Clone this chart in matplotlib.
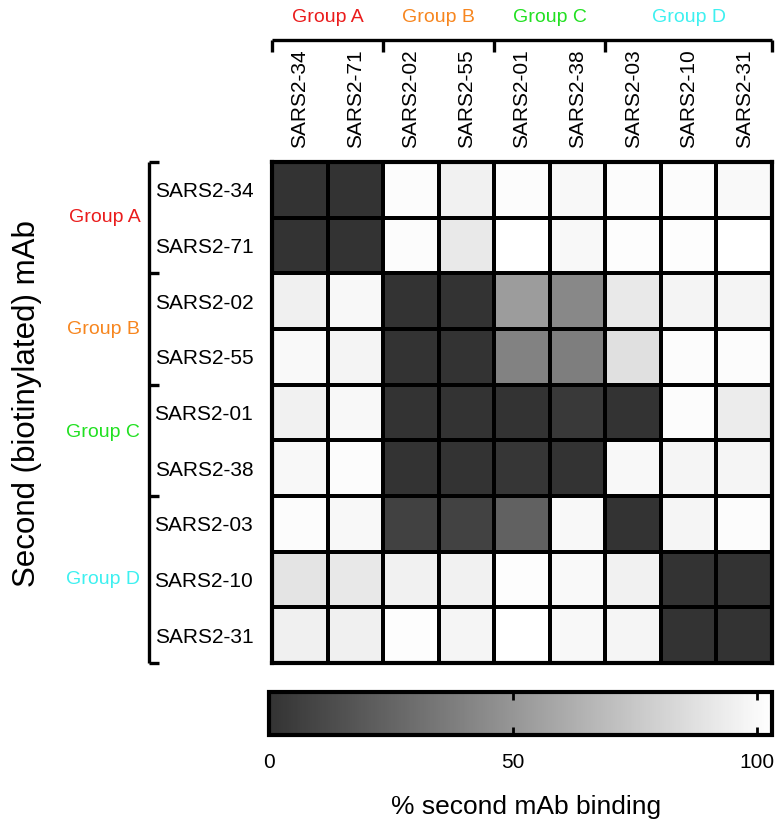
import numpy as np
import matplotlib
matplotlib.use("Agg")
import matplotlib.pyplot as plt
from matplotlib.colors import LinearSegmentedColormap

plt.rcParams['font.family'] = ['Liberation Sans', 'DejaVu Sans']

# competing mAbs (columns = first mAb, rows = second biotinylated mAb)
mabs = ["SARS2-34", "SARS2-71", "SARS2-02", "SARS2-55", "SARS2-01",
        "SARS2-38", "SARS2-03", "SARS2-10", "SARS2-31"]

# groups: name, first index, last index (exclusive)
group_names = ["Group A", "Group B", "Group C", "Group D"]
group_bounds = [0, 2, 4, 6, 9]
group_colors = ["#ea1c1c", "#f7861f", "#22e022", "#3ef0f0"]

# % second mAb binding
binding = np.array([
    [0, 0, 101, 96, 101, 99, 101, 101, 100],
    [0, 0, 101, 92, 103, 99, 102, 102, 103],
    [95, 99, 0, 0, 53, 43, 92, 97, 97],
    [100, 97, 0, 0, 40, 38, 87, 101, 101],
    [96, 99, 0, 0, 0, 3, 0, 101, 93],
    [99, 101, 0, 0, 2, 0, 99, 98, 98],
    [101, 99, 7, 8, 23, 99, 0, 98, 101],
    [89, 91, 96, 96, 102, 100, 96, 0, 0],
    [95, 95, 102, 98, 103, 99, 98, 0, 0],
])

VMIN, VMAX = 0, 103
cbar_ticks = [0, 50, 100]

cmap = LinearSegmentedColormap.from_list("grey_bind", ["#333333", "#ffffff"])

fig = plt.figure(figsize=(7.77, 8.22), dpi=100)

# heatmap axes (pixel layout of the reference)
ax = fig.add_axes([272 / 777, 1 - 663 / 822, 500 / 777, 501 / 822])
n = len(mabs)
mesh = ax.pcolormesh(np.arange(n + 1), np.arange(n + 1), binding, cmap=cmap,
                     vmin=VMIN, vmax=VMAX, edgecolors='black', linewidth=1.5)
ax.set_xlim(0, n)
ax.set_ylim(n, 0)
for s in ax.spines.values():
    s.set_linewidth(3)

ax.xaxis.tick_top()
ax.set_xticks(np.arange(n) + 0.5)
ax.set_xticklabels(mabs, rotation=90, fontsize=15)
ax.set_yticks(np.arange(n) + 0.5)
ax.set_yticklabels(mabs, fontsize=15)
ax.tick_params(axis='x', length=0, pad=10)
ax.tick_params(axis='y', length=0, pad=13.5)

# brackets + group names
lw = 2.4
top_y, top_tick = -2.19, -1.98
left_x, left_tick = -2.21, -2.03
ax.plot([group_bounds[0], group_bounds[-1]], [top_y, top_y], color='black', lw=lw,
        clip_on=False, solid_capstyle='butt')
ax.plot([left_x, left_x], [group_bounds[0], group_bounds[-1]], color='black', lw=lw,
        clip_on=False, solid_capstyle='butt')
for b in group_bounds:
    ax.plot([b, b], [top_y, top_tick], color='black', lw=lw, clip_on=False,
            solid_capstyle='butt')
    ax.plot([left_x, left_tick], [b, b], color='black', lw=lw, clip_on=False,
            solid_capstyle='butt')

left_label_y = [1.0, 3.0, 4.86, 7.5]
for name, c, a, b, ly in zip(group_names, group_colors, group_bounds[:-1],
                             group_bounds[1:], left_label_y):
    ax.text((a + b) / 2, -2.59, name, color=c, fontsize=14, ha='center',
            va='center', clip_on=False)
    ax.text(-2.37, ly, name, color=c, fontsize=14, ha='right', va='center',
            clip_on=False)

fig.text(0.035, 0.5085, "Second (biotinylated) mAb", rotation=90, fontsize=22.5,
         ha='center', va='center')

# colorbar
cax = fig.add_axes([269 / 777, 1 - 735 / 822, 503 / 777, 43 / 822])
cbar = fig.colorbar(mesh, cax=cax, orientation='horizontal', ticks=cbar_ticks)
cbar.outline.set_linewidth(3)
cax.tick_params(direction='in', length=6, width=2, top=True, bottom=True,
                labelsize=15, pad=13)
fig.text(526 / 777, 0.018, "% second mAb binding", fontsize=19,
         ha='center', va='center')

fig.savefig("out.png", dpi=100)
